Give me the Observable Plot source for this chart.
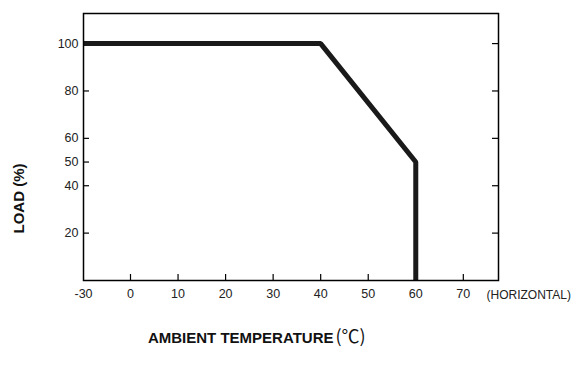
<!DOCTYPE html>
<html><head><meta charset="utf-8">
<script src="https://cdn.jsdelivr.net/npm/d3@7"></script>
<script src="https://cdn.jsdelivr.net/npm/@observablehq/plot@0.6"></script>
<style>html,body{margin:0;background:#fff} svg{display:block}</style>
</head><body><div id="chart"></div>
<script>
const temps = [-30, 40, 60, 60];
const loads = [100, 100, 50, 0];
const xTicks = [-30, 0, 10, 20, 30, 40, 50, 60, 70];
const xInnerTicks = [0, 10, 20, 30, 40, 50, 60, 70];
const yTicks = [20, 40, 50, 60, 80, 100];
const yLeftTicks = [20, 40, 50, 60, 80];
const yRightTicks = [20, 40, 60, 80, 100];
const xTitle = "AMBIENT TEMPERATURE";
const xUnit = "(℃)";
const yTitle = "LOAD (%)";
const xNote = "(HORIZONTAL)";

const data = temps.map((t, i) => ({t, load: loads[i]}));
const ink = "#1a1a1a";
const txt = "#222";

const chart = Plot.plot({
  width: 573,
  height: 369,
  marginTop: 13,
  marginRight: 75,
  marginBottom: 89,
  marginLeft: 83,
  style: {fontFamily: "'Liberation Sans', Arial, sans-serif", fontSize: "12px", background: "#fff"},
  x: {type: "linear", domain: [-30, 0, 77.4], range: [83, 130, 498], label: null},
  y: {domain: [0, 112.7], label: null},
  marks: [
    Plot.tickY(yLeftTicks, {y: d => d, insetRight: 409, stroke: "#000", strokeWidth: 1.2}),
    Plot.tickY(yRightTicks, {y: d => d, insetLeft: 409, stroke: "#000", strokeWidth: 1.2}),
    Plot.tickX(xInnerTicks, {x: d => d, insetTop: 261, stroke: "#000", strokeWidth: 1.2}),
    Plot.line(data, {x: "t", y: "load", stroke: ink, strokeWidth: 5, strokeLinejoin: "miter", strokeLinecap: "butt"}),
    Plot.frame({stroke: "#000", strokeWidth: 1.5}),
    Plot.axisY(yTicks, {tickSize: 0, tickPadding: 5, label: null, tickFormat: d => String(d), color: txt, fontSize: 12.5}),
    Plot.axisX(xTicks, {tickSize: 0, tickPadding: 9, label: null, tickFormat: d => String(d), color: txt, fontSize: 12.5}),
    Plot.text([xTitle], {text: d => d, frameAnchor: "bottom-left", dx: 250, dy: 62, textAnchor: "end", lineAnchor: "bottom", fontWeight: "bold", fontSize: 15, fill: "#111"}),
    Plot.text([xUnit], {text: d => d, frameAnchor: "bottom-left", dx: 252, dy: 62, textAnchor: "start", lineAnchor: "bottom", fontWeight: "normal", fontSize: 18, fill: "#111", fontFamily: "'Noto Sans CJK SC', sans-serif"}),
    Plot.text([yTitle], {text: d => d, frameAnchor: "left", dx: -64.5, dy: 51.5, rotate: -90, textAnchor: "middle", lineAnchor: "middle", fontWeight: "bold", fontSize: 15, fill: "#111"}),
    Plot.text([xNote], {text: d => d, frameAnchor: "bottom-right", dx: -12, dy: 18, textAnchor: "start", lineAnchor: "bottom", fontSize: 12, fill: txt})
  ]
});
document.getElementById("chart").appendChild(chart);
</script>
</body></html>
